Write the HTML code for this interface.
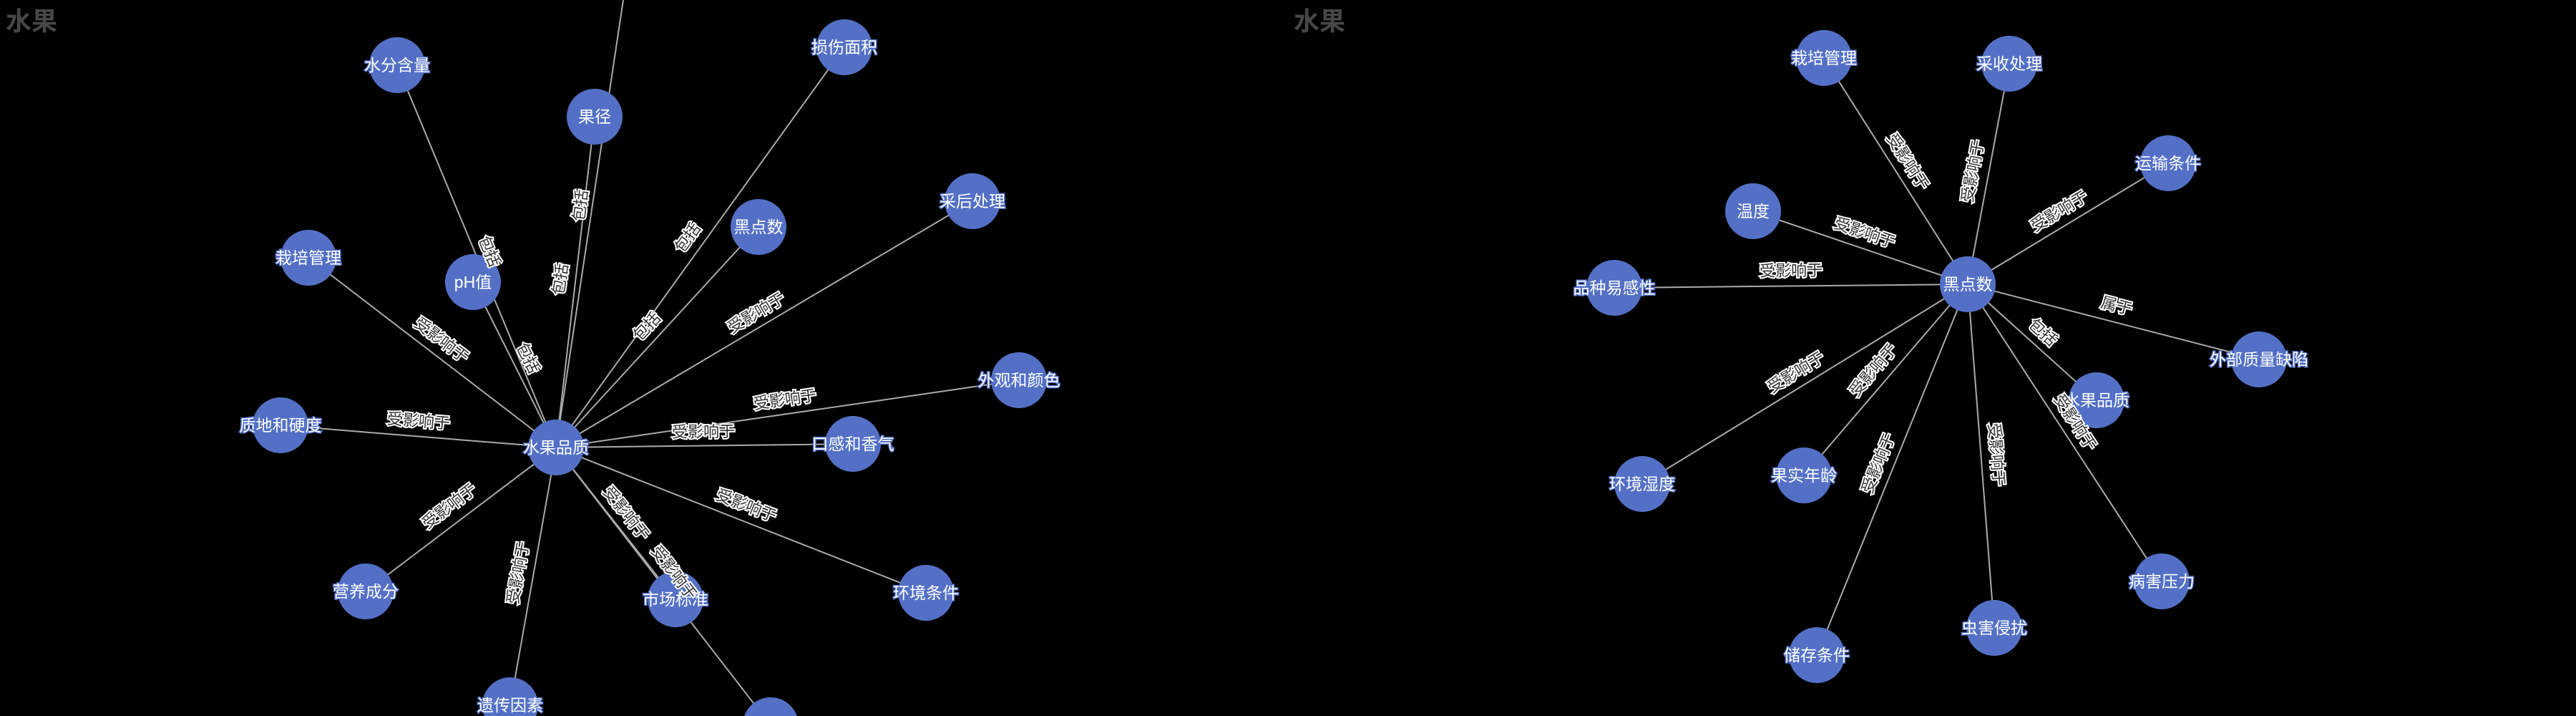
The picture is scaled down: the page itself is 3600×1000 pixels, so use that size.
<!DOCTYPE html>
<html><head><meta charset="utf-8">
<style>
html,body{margin:0;padding:0;background:#000;width:3600px;height:1000px;overflow:hidden}
svg{display:block;overflow:hidden}
.t{font-family:"Liberation Sans","Noto Sans CJK SC",sans-serif;font-weight:bold;font-size:36px;fill:#464646}
.n{font-family:"Liberation Sans","Noto Sans CJK SC",sans-serif;font-size:23px;fill:#fff;stroke:#5470c6;stroke-width:3px;paint-order:stroke;text-anchor:middle;dominant-baseline:central}
.e{font-family:"Liberation Sans","Noto Sans CJK SC",sans-serif;font-size:22px;fill:#333;stroke:#fff;stroke-width:4px;paint-order:stroke;text-anchor:middle;dominant-baseline:central}
</style></head><body>
<svg id="s" width="3600" height="1000" viewBox="0 0 3600 1000" xmlns="http://www.w3.org/2000/svg">
<text class="t" x="8" y="42">水果</text>
<text class="t" x="1808" y="42">水果</text>
<g id="lines"></g><g id="nodes"></g><g id="labels"></g>
</svg>
<script>
var NS="http://www.w3.org/2000/svg";
function el(tag,attrs,parent,txt){var e=document.createElementNS(NS,tag);for(var k in attrs)e.setAttribute(k,attrs[k]);if(txt)e.textContent=txt;document.getElementById(parent).appendChild(e);return e;}
function node(x,y){
 var r=39;
 if(y+r>1000){var d=1000-y;var h=Math.sqrt(r*r-d*d);
  var large=d>0?1:0;
  el("path",{d:"M "+(x-h).toFixed(1)+" 1000 A 39 39 0 "+large+" 1 "+(x+h).toFixed(1)+" 1000 Z",fill:"#5470c6"},"nodes");
 } else el("circle",{cx:x,cy:y,r:r,fill:"#5470c6"},"nodes");
}
var charts=[
{c:[777,625,"水果品质"],
 nodes:[
 [555,91,"水分含量","包括",684,351],
 [831,163,"果径","包括",811,287],
 [880,-60,"","包括",783,390],
 [1180,66,"损伤面积","包括",961,332],
 [1359,281,"采后处理","受影响于",1057,437],
 [1060,317,"黑点数","包括",904,456],
 [431,360,"栽培管理","受影响于",617,475],
 [661,394,"pH值","包括",738,500],
 [1424,531,"外观和颜色","受影响于",1097,558],
 [392,594,"质地和硬度","受影响于",585,588],
 [1192,620,"口感和香气","受影响于",983,603],
 [511,826,"营养成分","受影响于",628,707],
 [944,837,"市场标准","受影响于",875,717],
 [1294,828,"环境条件","受影响于",1043,706],
 [713,985,"遗传因素","受影响于",724,800],
 [1077,1013,"","受影响于",942,800]
 ]},
{c:[2750,397,"黑点数"],
 nodes:[
 [2549,81,"栽培管理","受影响于",2666,226],
 [2808,89,"采收处理","受影响于",2757,239],
 [3030,228,"运输条件","受影响于",2878,295],
 [2450,295,"温度","受影响于",2606,325],
 [2256,402,"品种易感性","受影响于",2503,378],
 [3157,502,"外部质量缺陷","属于",2958,427],
 [2930,559,"水果品质","包括",2855,464],
 [2295,676,"环境湿度","受影响于",2510,520],
 [2521,664,"果实年龄","受影响于",2618,517],
 [3021,812,"病害压力","受影响于",2900,590],
 [2787,877,"虫害侵扰","受影响于",2790,635],
 [2539,915,"储存条件","受影响于",2625,647]
 ]}
];
charts.forEach(function(ch){
 var cx=ch.c[0],cy=ch.c[1];
 ch.nodes.forEach(function(n){
  var x2=n[0],y2=n[1];
  if(y2<0){x2=cx+(n[0]-cx)*(cy/(cy-n[1]));y2=0;}
  if(y2>1000){x2=cx+(n[0]-cx)*((1000-cy)/(n[1]-cy));y2=1000;}
  el("line",{x1:cx,y1:cy,x2:x2.toFixed(1),y2:y2,stroke:"#aaa","stroke-width":2},"lines");
  if(n[1]>0)node(n[0],n[1]);
  if(n[2])el("text",{x:n[0],y:n[1],"class":"n"},"nodes",n[2]);
  var a=Math.atan2(n[1]-cy,n[0]-cx)*180/Math.PI;
  if(a>90)a-=180;if(a<-90)a+=180;
  el("text",{x:n[4],y:n[5],"class":"e",transform:"rotate("+a.toFixed(1)+" "+n[4]+" "+n[5]+")"},"labels",n[3]);
 });
 node(cx,cy);
 el("text",{x:cx,y:cy,"class":"n"},"nodes",ch.c[2]);
});
</script>
</body></html>
